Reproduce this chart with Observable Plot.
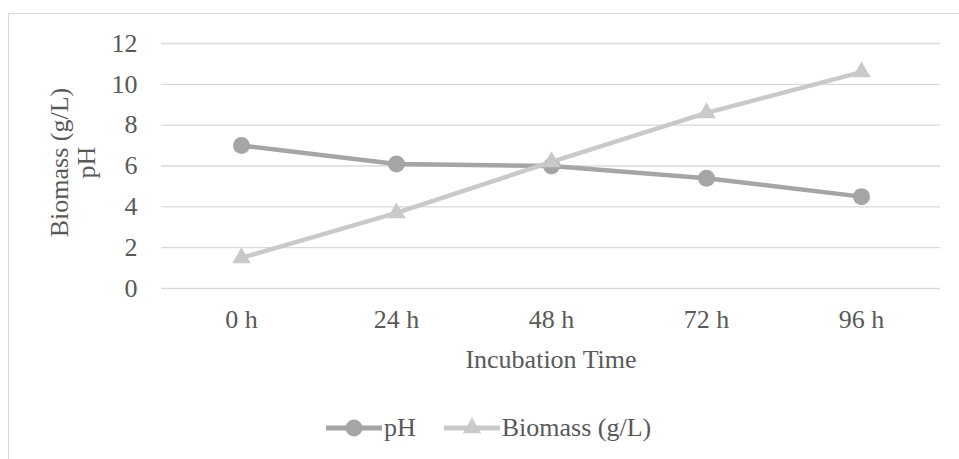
<!DOCTYPE html>
<html>
<head>
<meta charset="utf-8">
<script src="https://cdn.jsdelivr.net/npm/d3@7"></script>
<script src="https://cdn.jsdelivr.net/npm/@observablehq/plot@0.6"></script>
<style>
  html, body { margin: 0; padding: 0; background: #fff; }
  #wrap { position: relative; width: 959px; height: 459px; overflow: hidden; font-family: "Liberation Serif", "Times New Roman", serif; color: #595959; }
  #border { position: absolute; left: 8px; top: 13px; width: 1000px; height: 500px; border: 1.5px solid #d9d9d9; box-sizing: border-box; }
  #chart { position: absolute; left: 0; top: 0; }
  #legend { position: absolute; left: 326px; top: 413px; height: 30px; display: flex; align-items: center; font-size: 26px; color: #595959; white-space: nowrap; }
  #legend .item { display: flex; align-items: center; margin-right: 28px; }
  #legend svg { display: block; margin-right: 2px; }
</style>
</head>
<body>
<div id="wrap">
  <div id="border"></div>
  <div id="chart"></div>
  <div id="legend"></div>
</div>
<script>
const categories = ["0 h", "24 h", "48 h", "72 h", "96 h"];
const phValues = [7.0, 6.1, 6.0, 5.4, 4.5];
const biomassValues = [1.5, 3.7, 6.2, 8.6, 10.6];
const yTicks = [0, 2, 4, 6, 8, 10, 12];
const seriesNames = ["pH", "Biomass (g/L)"];
const xTitle = "Incubation Time";
const yTitle = "Biomass (g/L)\npH";

const phColor = "#a5a5a7";
const bioColor = "#c9c9c9";

const phData = categories.map((c, i) => ({cat: c, value: phValues[i]}));
const bioData = categories.map((c, i) => ({cat: c, value: biomassValues[i]}));

const plot = Plot.plot({
  width: 959,
  height: 390,
  marginLeft: 161,
  marginRight: 19,
  marginTop: 43,
  marginBottom: 102,
  style: {fontFamily: '"Liberation Serif", "Times New Roman", serif', color: "#595959", background: "transparent"},
  x: {type: "point", domain: categories, padding: 0.5},
  y: {domain: [0, 12]},
  marks: [
    Plot.ruleY(yTicks, {stroke: "#d9d9d9", strokeWidth: 1.3}),
    Plot.axisY({ticks: yTicks, tickSize: 0, tickPadding: 24, fontSize: 26, label: null, fill: "#595959"}),
    Plot.axisX({tickSize: 0, tickPadding: 21, fontSize: 26, label: null, fill: "#595959"}),
    Plot.text([xTitle], {frameAnchor: "bottom", dy: 71, lineAnchor: "middle", fontSize: 26, fill: "#595959"}),
    Plot.text([yTitle], {frameAnchor: "left", dx: -89, dy: -3.5, rotate: -90, lineAnchor: "middle", textAnchor: "middle", lineHeight: 1.07, fontSize: 26, fill: "#595959"}),
    Plot.line(phData, {x: "cat", y: "value", stroke: phColor, strokeWidth: 4.5, strokeLinejoin: "round"}),
    Plot.dot(phData, {x: "cat", y: "value", r: 8.5, fill: phColor, symbol: "circle"}),
    Plot.line(bioData, {x: "cat", y: "value", stroke: bioColor, strokeWidth: 4.5, strokeLinejoin: "round"}),
    Plot.dot(bioData, {x: "cat", y: "value", r: 6.8, fill: bioColor, symbol: "triangle"})
  ]
});
document.getElementById("chart").appendChild(plot);

// Legend
const legend = d3.select("#legend");
const swatches = [
  {name: seriesNames[0], color: phColor, symbol: d3.symbolCircle, size: Math.PI * 8.5 * 8.5},
  {name: seriesNames[1], color: bioColor, symbol: d3.symbolTriangle, size: Math.PI * 6.8 * 6.8}
];
swatches.forEach(s => {
  const item = legend.append("div").attr("class", "item");
  const svg = item.append("svg").attr("width", 56).attr("height", 24);
  svg.append("line").attr("x1", 0).attr("x2", 56).attr("y1", 12).attr("y2", 12)
    .attr("stroke", s.color).attr("stroke-width", 5).attr("stroke-linecap", "round");
  svg.append("path").attr("d", d3.symbol(s.symbol, s.size)()).attr("transform", "translate(28,12)").attr("fill", s.color);
  item.append("span").text(s.name);
});
</script>
</body>
</html>
